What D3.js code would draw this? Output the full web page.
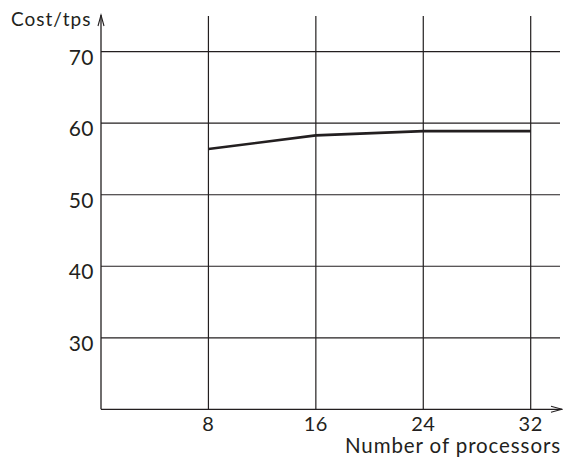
<!DOCTYPE html>
<html><head><meta charset="utf-8">
<script src="https://cdn.jsdelivr.net/npm/d3@7"></script>
<style>body{margin:0;background:#fff}svg{display:block}</style>
</head><body>
<script>
const processors = [8, 16, 24, 32];
const costPerTps = [56.4, 58.3, 58.9, 58.9];
const yTicks = [30, 40, 50, 60, 70];
const xTicks = [8, 16, 24, 32];
const yLabel = "Cost/tps";
const xLabel = "Number of processors";

const W = 563, H = 457;
const svg = d3.select("body").append("svg").attr("width", W).attr("height", H);
const font = "Lato, 'Open Sans', sans-serif";
const ink = "#231f20";

const x = d3.scaleLinear().domain([0, 32]).range([101, 530.7]);
const y = d3.scaleLinear().domain([20, 70]).range([409.3, 51.7]);

const g = svg.append("g");
// horizontal gridlines
g.selectAll("line.h").data(yTicks).join("line")
  .attr("x1", x(0)).attr("x2", 560)
  .attr("y1", d => y(d)).attr("y2", d => y(d))
  .attr("stroke", ink).attr("stroke-width", 1.2);
// vertical gridlines
g.selectAll("line.v").data(xTicks).join("line")
  .attr("x1", d => x(d)).attr("x2", d => x(d))
  .attr("y1", 16).attr("y2", y(20))
  .attr("stroke", ink).attr("stroke-width", 1.2);
// axes
g.append("line").attr("x1", x(0)).attr("x2", x(0)).attr("y1", 15).attr("y2", y(20))
  .attr("stroke", ink).attr("stroke-width", 1.3);
g.append("line").attr("x1", x(0)).attr("x2", 562).attr("y1", y(20)).attr("y2", y(20))
  .attr("stroke", ink).attr("stroke-width", 1.3);
// arrowheads
g.append("path").attr("d", `M${x(0)-3},${26} L${x(0)},${15} L${x(0)+3},${26}`)
  .attr("fill", "none").attr("stroke", ink).attr("stroke-width", 1.1);
g.append("path").attr("d", `M551,${y(20)-3} L562,${y(20)} L551,${y(20)+3}`)
  .attr("fill", "none").attr("stroke", ink).attr("stroke-width", 1.1);

// tick labels
g.selectAll("text.yt").data(yTicks).join("text")
  .attr("x", 94).attr("y", d => y(d) + 13)
  .attr("text-anchor", "end").attr("font-family", font).attr("font-size", 21)
  .attr("letter-spacing", 0.5)
  .attr("fill", ink).text(d => d);
g.selectAll("text.xt").data(xTicks).join("text")
  .attr("x", d => x(d)).attr("y", 430.5)
  .attr("text-anchor", "middle").attr("font-family", font).attr("font-size", 20)
  .attr("letter-spacing", 0.5)
  .attr("fill", ink).text(d => d);

// axis titles
g.append("text").attr("x", 11).attr("y", 26).attr("font-family", font).attr("font-size", 19)
  .attr("letter-spacing", 1).attr("fill", ink).text(yLabel);
g.append("text").attr("x", 561).attr("y", 452.5).attr("text-anchor", "end")
  .attr("font-family", font).attr("font-size", 20.5).attr("letter-spacing", 0.9)
  .attr("fill", ink).text(xLabel);

// data line
const line = d3.line().x((d, i) => x(processors[i])).y(d => y(d));
g.append("path").datum(costPerTps).attr("d", line)
  .attr("fill", "none").attr("stroke", ink).attr("stroke-width", 2.6);
</script>
</body></html>
